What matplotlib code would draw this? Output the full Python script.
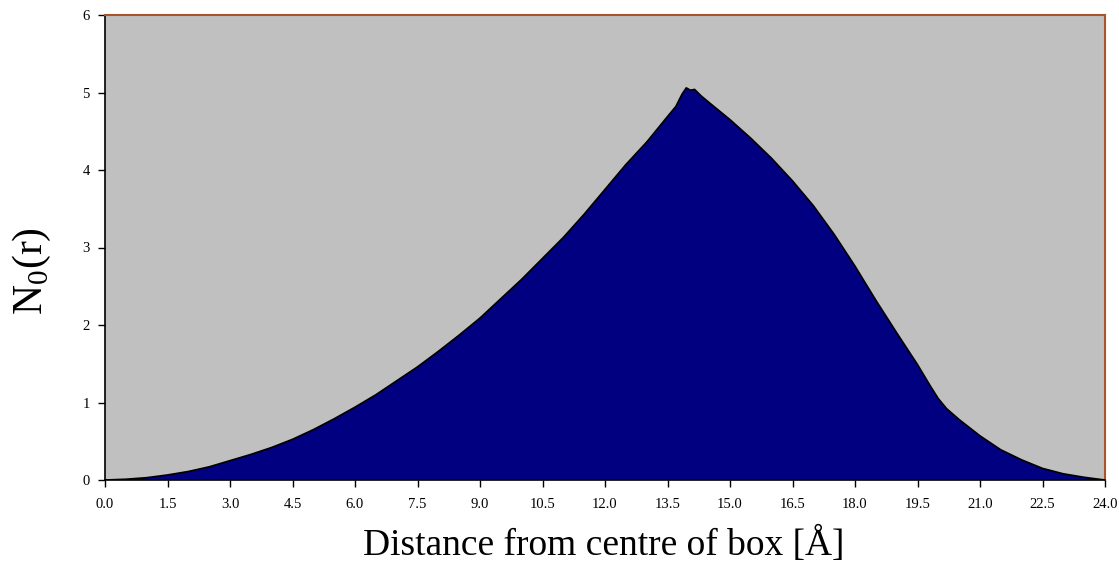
import numpy as np
import matplotlib
matplotlib.use("Agg")
import matplotlib.pyplot as plt

# font setup (Times-like serif)
plt.rcParams['font.family'] = ['Liberation Serif', 'DejaVu Serif']
plt.rcParams['mathtext.fontset'] = 'custom'
plt.rcParams['mathtext.rm'] = 'Liberation Serif'

# distance from centre of box [A] and N0(r)
distance = [0.0, 0.5, 1.0, 1.5, 2.0, 2.5, 3.0, 3.5, 4.0, 4.5, 5.0, 5.5,
            6.0, 6.5, 7.0, 7.5, 8.0, 8.5, 9.0, 9.5, 10.0, 10.5, 11.0, 11.5,
            12.0, 12.5, 13.0, 13.5, 13.7, 13.85, 13.95, 14.05, 14.15, 14.3,
            14.5, 15.0, 15.5, 16.0, 16.5, 17.0, 17.5, 18.0, 18.5, 19.0,
            19.5, 19.8, 20.0, 20.2, 20.5, 21.0, 21.5, 22.0, 22.5, 23.0,
            23.5, 24.0]
n0 = [0.0, 0.01, 0.03, 0.065, 0.11, 0.17, 0.25, 0.33, 0.42, 0.525, 0.65, 0.79,
      0.94, 1.10, 1.28, 1.46, 1.66, 1.87, 2.09, 2.34, 2.59, 2.86, 3.13, 3.43,
      3.75, 4.07, 4.36, 4.69, 4.82, 4.98, 5.06, 5.03, 5.04, 4.96,
      4.87, 4.65, 4.41, 4.15, 3.86, 3.54, 3.17, 2.76, 2.32, 1.90,
      1.49, 1.22, 1.05, 0.92, 0.78, 0.57, 0.39, 0.26, 0.15, 0.08,
      0.035, 0.0]

xticks = np.arange(0, 24.01, 1.5)
yticks = [0, 1, 2, 3, 4, 5, 6]

fig = plt.figure(figsize=(11.19, 5.68), dpi=100)
ax = fig.add_axes([105 / 1119, 88 / 568, 1000 / 1119, 465 / 568])
ax.set_facecolor('#c0c0c0')

ax.fill_between(distance, n0, 0, facecolor='#000080', edgecolor='none')
ax.plot(distance, n0, color='black', linewidth=1.2)

ax.set_xlim(0, 24)
ax.set_ylim(0, 6)
ax.set_xticks(xticks)
ax.set_xticklabels(['%.1f' % t for t in xticks])
ax.set_yticks(yticks)
ax.tick_params(axis='both', direction='out', length=5, width=1, colors='black',
               labelsize=10.5)
ax.tick_params(axis='x', pad=8)
ax.tick_params(axis='y', pad=6)

for side in ['left', 'bottom']:
    ax.spines[side].set_color('black')
    ax.spines[side].set_linewidth(1.2)
for side in ['top', 'right']:
    ax.spines[side].set_color('#a8552a')
    ax.spines[side].set_linewidth(1.5)

ax.set_xlabel('Distance from centre of box [Å]', fontsize=27)
ax.xaxis.set_label_coords(0.499, -0.10)
ax.set_ylabel(r'N$_\mathregular{0}$(r)', fontsize=30)
ax.yaxis.set_label_coords(-0.052, 0.45)

fig.savefig('out.png', dpi=100)
